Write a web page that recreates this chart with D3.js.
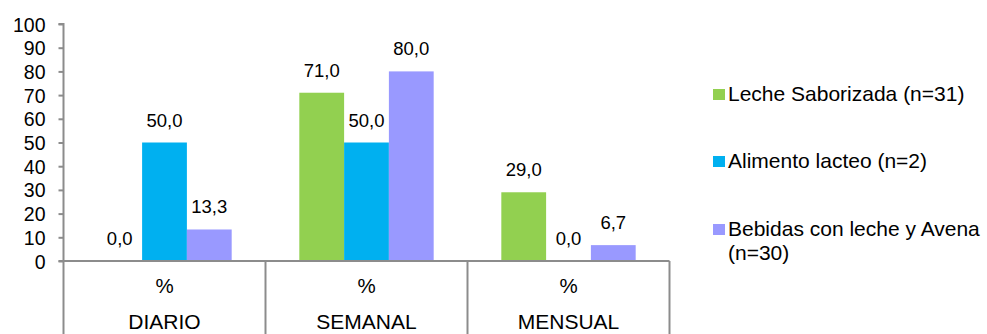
<!DOCTYPE html>
<html>
<head>
<meta charset="utf-8">
<script src="https://cdn.jsdelivr.net/npm/d3@7"></script>
<style>
  html, body { margin: 0; padding: 0; background: #fff; }
  svg { display: block; font-family: "Liberation Sans", Arial, sans-serif; }
</style>
</head>
<body>
<svg id="chart" width="987" height="334"></svg>
<script>
// ---- data ----
const groups = ["DIARIO", "SEMANAL", "MENSUAL"];
const subLabel = "%";
const series = ["Leche Saborizada (n=31)", "Alimento lacteo (n=2)", "Bebidas con leche y Avena (n=30)"];
const lecheSaborizada = [0.0, 71.0, 29.0];
const alimentoLacteo = [50.0, 50.0, 0.0];
const bebidasLecheAvena = [13.3, 80.0, 6.7];
const yTicks = [0, 10, 20, 30, 40, 50, 60, 70, 80, 90, 100];
const colors = ["#92D050", "#00B0F0", "#9999FF"];

const values = [lecheSaborizada, alimentoLacteo, bebidasLecheAvena];

const svg = d3.select("#chart");
const axisColor = "#8c8c8c";
const plotLeft = 63.5, plotRight = 669.5, plotTop = 24, plotBottom = 261;

const x0 = d3.scaleBand().domain(groups).range([plotLeft, plotRight]).paddingInner(0).paddingOuter(0);
const x1 = d3.scaleBand().domain(d3.range(series.length)).range([0, x0.bandwidth()]).paddingInner(0).paddingOuter(0.755);
const y = d3.scaleLinear().domain([0, 100]).range([plotBottom, plotTop]);
const fmt = v => d3.format(".1f")(v).replace(".", ",");

// bars
groups.forEach((g, gi) => {
  series.forEach((s, si) => {
    const v = values[si][gi];
    svg.append("rect")
      .attr("x", x0(g) + x1(si))
      .attr("y", y(v))
      .attr("width", x1.bandwidth())
      .attr("height", y(0) - y(v))
      .attr("fill", colors[si]);
    svg.append("text")
      .attr("x", x0(g) + x1(si) + x1.bandwidth() / 2)
      .attr("y", y(v) - 16)
      .attr("text-anchor", "middle")
      .attr("font-size", 18.5)
      .attr("fill", "#000")
      .text(fmt(v));
  });
});

// y axis
const yAxis = d3.axisLeft(y).tickValues(yTicks).tickSize(5).tickPadding(13).tickFormat(d3.format("d"));
const yg = svg.append("g").attr("transform", `translate(${plotLeft},0)`).call(yAxis);
yg.select(".domain").attr("stroke", axisColor).attr("stroke-width", 2).attr("d", `M-5,${plotTop}H0V${plotBottom}`);
yg.selectAll(".tick line").attr("stroke", axisColor).attr("stroke-width", 2);
yg.selectAll(".tick text").attr("font-size", 19.5).attr("font-family", "Liberation Sans, Arial, sans-serif").attr("fill", "#000").attr("dy", "0.36em");

// x axis baseline
svg.append("line").attr("x1", plotLeft - 5).attr("x2", plotRight).attr("y1", plotBottom).attr("y2", plotBottom)
  .attr("stroke", axisColor).attr("stroke-width", 2);

// category separators
const seps = groups.map(g => x0(g)).concat([plotRight]);
seps.forEach(sx => {
  svg.append("line").attr("x1", sx).attr("x2", sx).attr("y1", plotBottom).attr("y2", 334)
    .attr("stroke", axisColor).attr("stroke-width", 2);
});

// category labels
groups.forEach(g => {
  const cx = x0(g) + x0.bandwidth() / 2;
  svg.append("text").attr("x", cx).attr("y", 293).attr("text-anchor", "middle")
    .attr("font-size", 20.5).text(subLabel);
  svg.append("text").attr("x", cx).attr("y", 329).attr("text-anchor", "middle")
    .attr("font-size", 21).text(g);
});

// legend
const legendY = [101, 168, 236];
series.forEach((s, si) => {
  svg.append("rect").attr("x", 713).attr("y", legendY[si] - 12).attr("width", 12).attr("height", 11)
    .attr("fill", colors[si]);
  const t = svg.append("text").attr("x", 728).attr("y", legendY[si]).attr("font-size", 21).attr("fill", "#000");
  if (si === 2) {
    t.append("tspan").attr("x", 728).text("Bebidas con leche y Avena");
    t.append("tspan").attr("x", 728).attr("dy", 24).text("(n=30)");
  } else {
    t.text(s);
  }
});
</script>
</body>
</html>
